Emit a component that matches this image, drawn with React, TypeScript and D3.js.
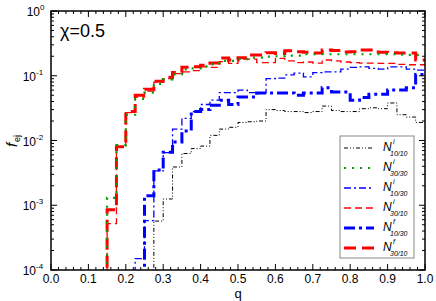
import { useEffect, useRef } from 'react';
import * as d3 from 'd3';

// bin starts (width 0.025) for each series
const BIN = 0.025;
const xTicks = [0, 0.1, 0.2, 0.3, 0.4, 0.5, 0.6, 0.7, 0.8, 0.9, 1.0];
const yExps = [0, -1, -2, -3, -4];

const ni1010Start = 0.275;
const ni1010 = [5.7e-4, 1.25e-3, 3.9e-3, 6.3e-3, 7.5e-3, 8.2e-3, 1.2e-2, 1.5e-2, 1.6e-2, 1.9e-2, 1.95e-2, 2.0e-2,
  3.0e-2, 2.9e-2, 2.8e-2, 2.8e-2, 2.7e-2, 2.8e-2, 3.4e-2, 2.9e-2, 2.8e-2, 2.8e-2, 3.1e-2, 3.2e-2, 3.1e-2,
  3.8e-2, 2.5e-2, 2.3e-2, 1.9e-2];

const ni3030Start = 0.15;
const ni3030 = [1.3e-3, 8.5e-3, 2.5e-2, 4.4e-2, 5.5e-2, 7.5e-2, 8.8e-2, 1.05e-1, 1.25e-1, 1.3e-1, 1.4e-1, 1.5e-1,
  1.7e-1, 1.7e-1, 1.8e-1, 1.9e-1, 1.9e-1, 1.97e-1, 2.0e-1, 2.05e-1, 2.05e-1, 2.15e-1, 2.15e-1, 2.15e-1, 2.15e-1,
  2.15e-1, 2.15e-1, 2.15e-1, 2.15e-1, 2.15e-1, 2.15e-1, 2.12e-1, 2.1e-1, 2.1e-1];

const ni1030Start = 0.225;
const ni1030 = [1.5e-4, 5.8e-4, 3.4e-3, 6.5e-3, 1.5e-2, 2.2e-2, 2.8e-2, 3.6e-2, 4.2e-2, 5.5e-2, 5.5e-2, 6.0e-2,
  5.5e-2, 5.4e-2, 9.0e-2, 9.2e-2, 1.03e-1, 1.1e-1, 9.6e-2, 1.12e-1, 1.15e-1, 1.15e-1, 1.27e-1, 1.35e-1,
  1.37e-1, 1.3e-1, 1.27e-1, 1.37e-1, 1.37e-1, 1.27e-1, 1.22e-1];

const ni3010Start = 0.15;
const ni3010 = [5.2e-4, 8e-3, 2.7e-2, 4.7e-2, 5.8e-2, 8e-2, 9e-2, 1.08e-1, 1.15e-1, 1.2e-1, 1.37e-1, 1.35e-1,
  1.65e-1, 1.55e-1, 1.8e-1, 1.8e-1, 1.6e-1, 1.6e-1, 1.86e-1, 1.7e-1, 1.6e-1, 1.63e-1, 1.57e-1, 1.75e-1,
  1.7e-1, 1.63e-1, 1.6e-1, 1.57e-1, 1.57e-1, 1.55e-1, 1.55e-1, 1.5e-1, 1.48e-1, 1.48e-1];

const nf1030Start = 0.25;
const nf1030 = [1.4e-3, 3.5e-3, 6.6e-3, 9.5e-3, 1.4e-2, 2.8e-2, 3.0e-2, 3.5e-2, 4.2e-2, 3.6e-2, 4.7e-2, 4.7e-2,
  5.4e-2, 5.4e-2, 5.4e-2, 5.4e-2, 5.0e-2, 5.4e-2, 5.4e-2, 6.5e-2, 5.6e-2, 5.6e-2, 4.2e-2, 4.6e-2, 5.2e-2,
  5.2e-2, 6.0e-2, 6.0e-2, 6.5e-2, 1.05e-1];

const nf3010Start = 0.15;
const nf3010 = [8.5e-4, 8e-3, 2.8e-2, 5e-2, 6.2e-2, 8.2e-2, 9.5e-2, 1.12e-1, 1.35e-1, 1.38e-1, 1.45e-1, 1.57e-1,
  1.88e-1, 1.75e-1, 1.9e-1, 2.1e-1, 2.1e-1, 2.27e-1, 2.2e-1, 2.44e-1, 2.35e-1, 2.3e-1, 2.25e-1, 2.5e-1,
  2.45e-1, 2.32e-1, 2.35e-1, 2.5e-1, 2.5e-1, 2.3e-1, 2.27e-1, 2.24e-1, 2.24e-1, 1.75e-1];

interface Series {
  start: number;
  values: number[];
  color: string;
  width: number;
  dash: string;
  sup: string;
  sub: string;
}

const series: Series[] = [
  { start: ni1010Start, values: ni1010, color: '#000000', width: 1, dash: '4,2,1,2,1,2', sup: 'i', sub: '10/10' },
  { start: ni3030Start, values: ni3030, color: '#00a000', width: 2.2, dash: '2,6', sup: 'i', sub: '30/30' },
  { start: ni1030Start, values: ni1030, color: '#0000ff', width: 1.3, dash: '7,3,2,3', sup: 'i', sub: '10/30' },
  { start: ni3010Start, values: ni3010, color: '#ff0000', width: 1.3, dash: '7,4', sup: 'i', sub: '30/10' },
  { start: nf1030Start, values: nf1030, color: '#0000ff', width: 3, dash: '11,4,3,4', sup: 'f', sub: '10/30' },
  { start: nf3010Start, values: nf3010, color: '#ff0000', width: 3, dash: '12,6', sup: 'f', sub: '30/10' },
];

// draw order: thin first, thick later, green on top
const drawOrder = [0, 2, 4, 3, 5, 1];

interface Pt { q: number; v: number; }

export default function App() {
  const svgRef = useRef<SVGSVGElement | null>(null);

  useEffect(() => {
    if (!svgRef.current) return;
    const svg = d3.select(svgRef.current);
    svg.selectAll('*').remove();

    const left = 51, right = 425, top = 11, bottom = 270;
    const font = 'Liberation Sans, Arial, sans-serif';

    const x = d3.scaleLinear().domain([0, 1]).range([left, right]);
    const y = d3.scaleLog().domain([1e-4, 1]).range([bottom, top]);

    svg.append('defs').append('clipPath').attr('id', 'plotclip')
      .append('rect').attr('x', left).attr('y', top).attr('width', right - left).attr('height', bottom - top);

    // data lines
    const line = d3.line<Pt>()
      .x(d => x(d.q))
      .y(d => y(d.v))
      .curve(d3.curveStepAfter);

    const plot = svg.append('g').attr('clip-path', 'url(#plotclip)');
    drawOrder.forEach(i => {
      const s = series[i];
      const pts: Pt[] = [{ q: s.start, v: 3e-5 }];
      s.values.forEach((v, k) => pts.push({ q: s.start + k * BIN, v }));
      pts.push({ q: 1.0, v: s.values[s.values.length - 1] });
      plot.append('path')
        .attr('d', line(pts) || '')
        .attr('fill', 'none')
        .attr('stroke', s.color)
        .attr('stroke-width', s.width)
        .attr('stroke-dasharray', s.dash);
    });

    // frame
    svg.append('rect')
      .attr('x', left).attr('y', top).attr('width', right - left).attr('height', bottom - top)
      .attr('fill', 'none').attr('stroke', '#000').attr('stroke-width', 1.5);

    const ticks = svg.append('g').attr('stroke', '#000').attr('stroke-width', 1);
    // x ticks (inward, mirrored)
    d3.range(0, 51).forEach(k => {
      const q = k * 0.02;
      const len = k % 5 === 0 ? 6 : 3;
      const px = x(q);
      ticks.append('line').attr('x1', px).attr('x2', px).attr('y1', bottom).attr('y2', bottom - len);
      ticks.append('line').attr('x1', px).attr('x2', px).attr('y1', top).attr('y2', top + len);
    });
    // y ticks
    yExps.forEach(e => {
      const py = y(Math.pow(10, e));
      ticks.append('line').attr('x1', left).attr('x2', left + 6).attr('y1', py).attr('y2', py);
      ticks.append('line').attr('x1', right).attr('x2', right - 6).attr('y1', py).attr('y2', py);
      if (e < 0) {
        d3.range(2, 10).forEach(m => {
          const pm = y(m * Math.pow(10, e));
          ticks.append('line').attr('x1', left).attr('x2', left + 3).attr('y1', pm).attr('y2', pm);
          ticks.append('line').attr('x1', right).attr('x2', right - 3).attr('y1', pm).attr('y2', pm);
        });
      }
    });

    // x tick labels
    xTicks.forEach(q => {
      svg.append('text')
        .attr('x', x(q)).attr('y', bottom + 13)
        .attr('text-anchor', 'middle')
        .attr('font-family', font).attr('font-size', 12)
        .text(q.toFixed(1));
    });

    // y tick labels
    yExps.forEach(e => {
      const py = y(Math.pow(10, e));
      svg.append('text')
        .attr('x', e === 0 ? 40 : 36).attr('y', py + 5)
        .attr('text-anchor', 'end')
        .attr('font-family', font).attr('font-size', 12)
        .text('10');
      svg.append('text')
        .attr('x', e === 0 ? 40 : 36).attr('y', py - 1)
        .attr('font-family', font).attr('font-size', 8)
        .text(e === 0 ? '0' : `-${-e}`);
    });

    // axis titles
    svg.append('text')
      .attr('x', (left + right) / 2).attr('y', 298)
      .attr('text-anchor', 'middle')
      .attr('font-family', font).attr('font-size', 13)
      .text('q');

    const yl = svg.append('g').attr('transform', 'translate(17,140) rotate(-90)');
    yl.append('text').attr('x', -7).attr('y', 0)
      .attr('font-family', font).attr('font-size', 15).attr('font-style', 'italic').text('f');
    yl.append('text').attr('x', -2).attr('y', 3)
      .attr('font-family', font).attr('font-size', 9).text('ej');

    svg.append('text')
      .attr('x', 60).attr('y', 37)
      .attr('font-family', font).attr('font-size', 18)
      .text('\u03c7=0.5');

    // legend
    const lg = svg.append('g');
    lg.append('rect').attr('x', 340).attr('y', 136).attr('width', 74).attr('height', 122)
      .attr('fill', '#fff').attr('stroke', '#888').attr('stroke-width', 1);
    series.forEach((s, i) => {
      const ly = 148 + i * 20;
      lg.append('line').attr('x1', 344).attr('x2', 374).attr('y1', ly).attr('y2', ly)
        .attr('stroke', s.color).attr('stroke-width', s.width).attr('stroke-dasharray', s.dash);
      lg.append('text').attr('x', 383).attr('y', ly + 3)
        .attr('font-family', font).attr('font-size', 12).attr('font-style', 'italic').text('N');
      lg.append('text').attr('x', 393).attr('y', ly - 4)
        .attr('font-family', font).attr('font-size', 7).attr('font-style', 'italic').text(s.sup);
      lg.append('text').attr('x', 390).attr('y', ly + 8)
        .attr('font-family', font).attr('font-size', 7).attr('font-style', 'italic').text(s.sub);
    });
  }, []);

  return (
    <svg ref={svgRef} width={436} height={301}
      style={{ position: 'absolute', left: 0, top: 0, background: '#fff' }} />
  );
}
